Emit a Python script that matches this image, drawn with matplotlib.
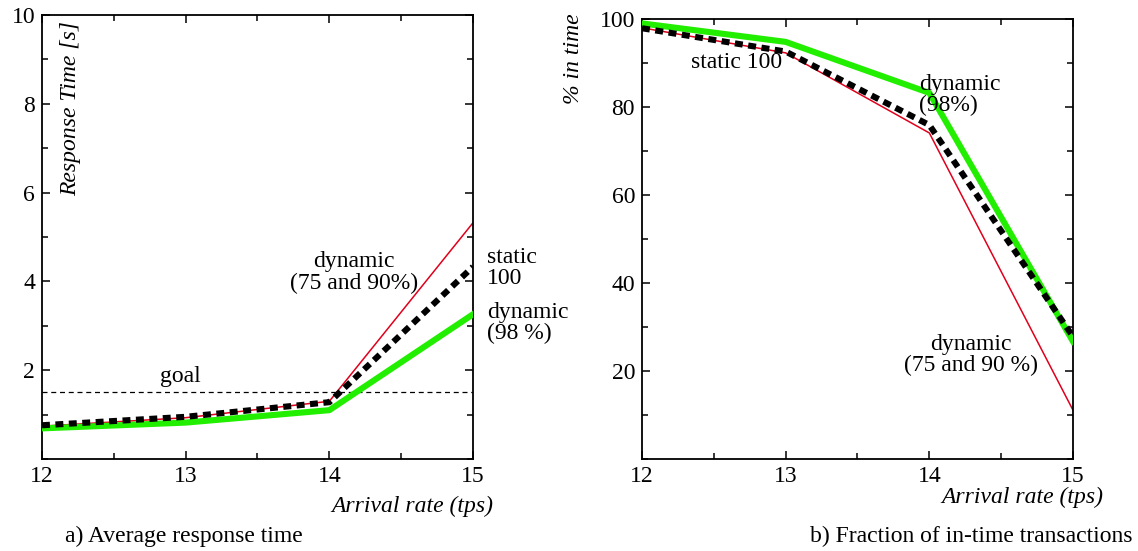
import matplotlib
matplotlib.use("Agg")
import matplotlib.pyplot as plt
from matplotlib.ticker import MultipleLocator

plt.rcParams['font.family'] = ['Liberation Serif', 'DejaVu Serif']
plt.rcParams['font.size'] = 17

# arrival rate (tps)
rate = [12, 13, 14, 15]

# a) average response time [s]
resp_dyn_75_90 = [0.74, 0.93, 1.30, 5.32]
resp_static_100 = [0.76, 0.95, 1.28, 4.33]
resp_dyn_98 = [0.69, 0.82, 1.10, 3.26]
goal = 1.5

# b) fraction of in-time transactions [%]
pct_dyn_75_90 = [98.0, 92.3, 74.1, 11.1]
pct_static_100 = [97.9, 92.6, 75.9, 27.8]
pct_dyn_98 = [99.0, 94.8, 83.2, 26.7]

W, H = 1138, 551
fig = plt.figure(figsize=(W / 100, H / 100), dpi=100)


def px_axes(x0, y0, x1, y1):
    return fig.add_axes([x0 / W, 1 - y1 / H, (x1 - x0) / W, (y1 - y0) / H])


def style(ax, ymajor, yminor):
    ax.xaxis.set_major_locator(MultipleLocator(1))
    ax.xaxis.set_minor_locator(MultipleLocator(0.5))
    ax.yaxis.set_major_locator(MultipleLocator(ymajor))
    ax.yaxis.set_minor_locator(MultipleLocator(yminor))
    ax.tick_params(which='both', direction='in', top=True, right=True, width=1.1)
    ax.tick_params(which='major', length=6, labelsize=17, pad=5)
    ax.tick_params(which='minor', length=4)
    for s in ax.spines.values():
        s.set_linewidth(1.3)


def draw(ax, red, black, green):
    ax.plot(rate, red, color='#e0001b', lw=1.1, zorder=2)
    ax.plot(rate, green, color='#22ee00', lw=4.4, zorder=3)
    ax.plot(rate, black, color='black', lw=4.4, dashes=(1.3, 0.9), zorder=4)


# ---- left panel ----
ax1 = px_axes(42, 15, 473, 459)
draw(ax1, resp_dyn_75_90, resp_static_100, resp_dyn_98)
ax1.axhline(goal, color='black', lw=0.9, ls=(0, (4, 3)), zorder=1)
ax1.set_xlim(12, 15)
ax1.set_ylim(0, 10)
style(ax1, 2, 1)
ax1.set_yticks([2, 4, 6, 8, 10])

ax1.text(12.2, 7.9, 'Response Time [s]', rotation=90, style='italic',
         ha='center', va='center')
ax1.text(12.96, 1.86, 'goal', ha='center', va='center')
ax1.text(14.17, 4.2, 'dynamic\n(75 and 90%)', ha='center', va='center',
         linespacing=1.0)
ax1.text(15.1, 4.3, 'static\n100', ha='left', va='center', linespacing=1.0,
         clip_on=False)
ax1.text(15.1, 3.06, 'dynamic\n(98 %)', ha='left', va='center',
         linespacing=1.0, clip_on=False)
ax1.text(15.14, -1.06, 'Arrival rate (tps)', style='italic', ha='right',
         va='center', clip_on=False)
fig.text(65 / W, 1 - 536 / H, 'a) Average response time', ha='left',
         va='center')

# ---- right panel ----
ax2 = px_axes(642, 19, 1073, 459)
draw(ax2, pct_dyn_75_90, pct_static_100, pct_dyn_98)
ax2.set_xlim(12, 15)
ax2.set_ylim(0, 100)
style(ax2, 20, 10)
ax2.set_yticks([20, 40, 60, 80, 100])

ax2.text(11.52, 90.9, '% in time', rotation=90, style='italic',
         ha='center', va='center', clip_on=False)
ax2.text(12.66, 90.0, 'static 100', ha='center', va='center')
ax2.text(13.93, 82.7, 'dynamic\n(98%)', ha='left', va='center',
         linespacing=1.0)
ax2.text(14.29, 23.6, 'dynamic\n(75 and 90 %)', ha='center', va='center',
         linespacing=1.0)
ax2.text(15.21, -8.8, 'Arrival rate (tps)', style='italic', ha='right',
         va='center', clip_on=False)
fig.text(1133 / W, 1 - 536 / H, 'b) Fraction of in-time transactions',
         ha='right', va='center')

fig.savefig('out.png', dpi=100)
